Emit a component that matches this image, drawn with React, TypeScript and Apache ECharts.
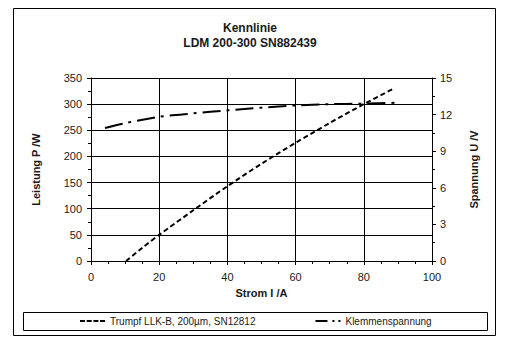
import React, { useEffect, useRef } from "react";
import * as echarts from "echarts";

const titleLines = ["Kennlinie", "LDM 200-300 SN882439"];
const xName = "Strom I /A";
const yLeftName = "Leistung P /W";
const yRightName = "Spannung U /V";
const seriesNames = ["Trumpf LLK-B, 200µm, SN12812", "Klemmenspannung"];

// Power (left axis) vs current
const powerCurrent = [10.3, 15, 20, 30, 40, 50, 60, 70, 80, 88.8];
const powerValues = [0, 25, 50, 97, 143, 186, 226, 264, 300, 330];

// Terminal voltage (right axis) vs current
const voltCurrent = [4.1, 10, 20, 30, 40, 50, 60, 70, 80, 89.5];
const voltValues = [10.9, 11.3, 11.82, 12.1, 12.35, 12.57, 12.75, 12.85, 12.9, 12.97];

const FONT = "'Liberation Sans', Arial, sans-serif";
const TXT = "#1a1a1a";

const dashIcon = "path://M0 0h5v2H0zM6.7 0h5v2h-5zM13.4 0h5v2h-5zM20 0h5v2h-5z";
const dashDotIcon = "path://M0 0h12v2H0zM17 0h2v2h-2zM23 0h2v2h-2z";

export default function App() {
  const ref = useRef<HTMLDivElement>(null);
  useEffect(() => {
    if (!ref.current) return;
    const chart = echarts.init(ref.current, undefined, { renderer: "svg" });
    const powerData = powerCurrent.map((x, i) => [x, powerValues[i]]);
    const voltData = voltCurrent.map((x, i) => [x, voltValues[i]]);
    chart.setOption({
      animation: false,
      backgroundColor: "#fff",
      textStyle: { fontFamily: FONT },
      title: {
        text: titleLines.join("\n"),
        left: 245,
        top: 15,
        textAlign: "center",
        textStyle: { fontFamily: FONT, fontSize: 12, fontWeight: "bold", color: TXT, lineHeight: 15 },
      },
      grid: { left: 91, right: 81, top: 78, bottom: 91, containLabel: false },
      legend: {
        left: 80,
        top: 316,
        itemGap: 60,
        itemWidth: 25,
        itemHeight: 2,
        padding: 0,
        textStyle: { fontFamily: FONT, fontSize: 10, color: TXT },
        data: [
          { name: seriesNames[0], icon: dashIcon },
          { name: seriesNames[1], icon: dashDotIcon },
        ],
      },
      xAxis: {
        type: "value",
        min: 0,
        max: 100,
        interval: 20,
        name: xName,
        nameLocation: "middle",
        nameGap: 26,
        nameTextStyle: { fontFamily: FONT, fontSize: 11, fontWeight: "bold", color: TXT },
        axisLine: { lineStyle: { color: "#000", width: 1 } },
        axisTick: { show: true, length: 4, lineStyle: { color: "#000" } },
        minorTick: { show: true, splitNumber: 4, length: 3, lineStyle: { color: "#000" } },
        axisLabel: { fontFamily: FONT, fontSize: 11, color: TXT, margin: 10 },
        splitLine: { show: true, lineStyle: { color: "#000", width: 1 } },
      },
      yAxis: [
        {
          type: "value",
          min: 0,
          max: 350,
          interval: 50,
          name: yLeftName,
          nameLocation: "middle",
          nameRotate: 90,
          nameGap: 50,
          nameTextStyle: { fontFamily: FONT, fontSize: 11, fontWeight: "bold", color: TXT },
          axisLine: { show: true, lineStyle: { color: "#000", width: 1 } },
          axisTick: { show: true, length: 4, lineStyle: { color: "#000" } },
          minorTick: { show: true, splitNumber: 2, length: 3, lineStyle: { color: "#000" } },
          axisLabel: { fontFamily: FONT, fontSize: 11, color: TXT, margin: 9 },
          splitLine: { show: true, lineStyle: { color: "#000", width: 1 } },
        },
        {
          type: "value",
          min: 0,
          max: 15,
          interval: 3,
          position: "right",
          name: yRightName,
          nameLocation: "middle",
          nameRotate: 90,
          nameGap: 36,
          nameTextStyle: { fontFamily: FONT, fontSize: 11, fontWeight: "bold", color: TXT },
          axisLine: { show: true, lineStyle: { color: "#000", width: 1 } },
          axisTick: { show: true, length: 4, lineStyle: { color: "#000" } },
          minorTick: { show: true, splitNumber: 2, length: 3, lineStyle: { color: "#000" } },
          axisLabel: { fontFamily: FONT, fontSize: 11, color: TXT, margin: 8 },
          splitLine: { show: false },
        },
      ],
      series: [
        {
          name: seriesNames[0],
          type: "line",
          yAxisIndex: 0,
          data: powerData,
          smooth: 0.3,
          symbol: "none",
          color: "#000",
          lineStyle: { color: "#000", width: 2, type: [5, 3] },
        },
        {
          name: seriesNames[1],
          type: "line",
          yAxisIndex: 1,
          data: voltData,
          smooth: 0.3,
          symbol: "none",
          color: "#000",
          lineStyle: { color: "#000", width: 2, type: [18, 6, 3, 6] },
        },
      ],
      graphic: [
        {
          type: "rect",
          shape: { x: 13.5, y: 8.5, width: 482, height: 327 },
          style: { fill: "none", stroke: "#000", lineWidth: 1 },
          silent: true,
        },
        {
          type: "rect",
          shape: { x: 23.5, y: 312.5, width: 464, height: 18 },
          style: { fill: "none", stroke: "#000", lineWidth: 1 },
          silent: true,
        },
      ],
    });
    return () => chart.dispose();
  }, []);
  return (
    <div
      ref={ref}
      style={{ position: "absolute", left: 0, top: 0, width: 513, height: 352 }}
    />
  );
}
